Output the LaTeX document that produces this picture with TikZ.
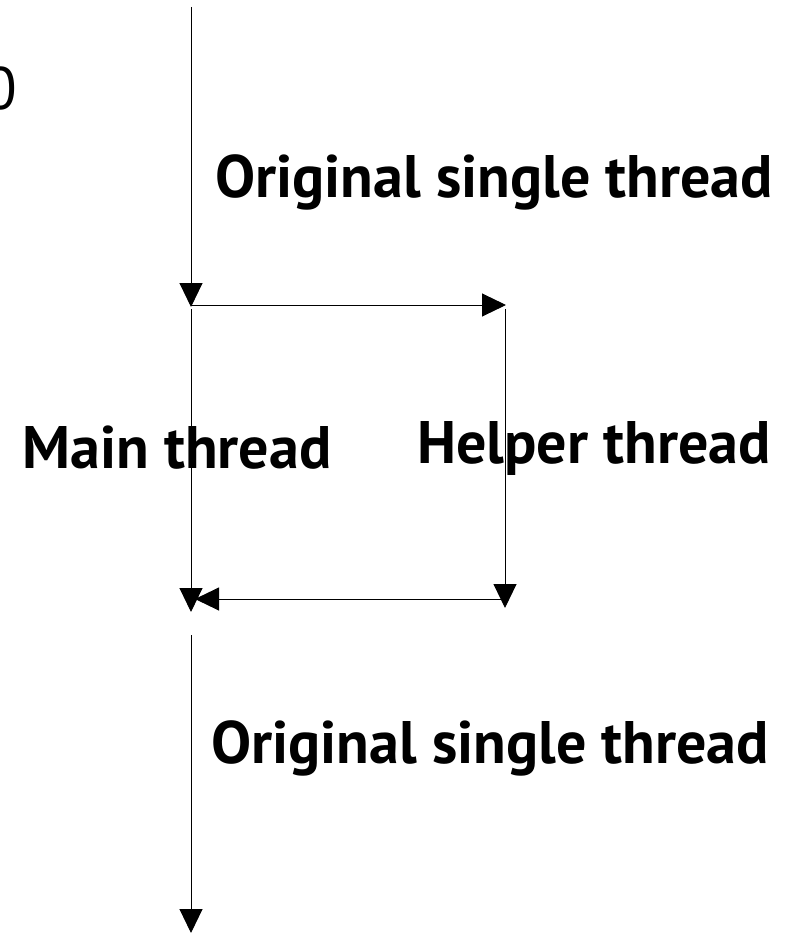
\documentclass[tikz,border=0pt]{standalone}
\usepackage{fontspec}
\setmainfont{PT Sans}
\usetikzlibrary{arrows.meta}
\begin{document}
\begin{tikzpicture}[x=1pt,y=-1pt,
  flow/.style={line width=1pt,draw=black,-{Triangle[length=24pt,width=23pt]}},
  label/.style={font=\fontsize{60}{60}\selectfont\bfseries,inner sep=0pt,anchor=base}]
\useasboundingbox (0,0) rectangle (788,933);
% thread timeline points
\coordinate (start) at (191,7);
\coordinate (fork) at (191,307);
\coordinate (forkR) at (506,305);
\coordinate (forkL) at (191,305);
\coordinate (mainTop) at (191,309);
\coordinate (mainEnd) at (191,612);
\coordinate (helpTop) at (505,309);
\coordinate (helpEnd) at (505,608);
\coordinate (joinR) at (505,599);
\coordinate (joinL) at (195,599);
\coordinate (restart) at (191,635);
\coordinate (finish) at (191,933);
% arrows
\draw[flow] (start) -- (fork);
\draw[flow] (forkL) -- (forkR);
\draw[flow] (mainTop) -- (mainEnd);
\draw[flow] (helpTop) -- (helpEnd);
\draw[flow] (joinR) -- (joinL);
\draw[flow] (restart) -- (finish);
% labels
\node[label] (orig1) at (494,198) {Original single thread};
\node[label] (mainlbl) at (177,468) {Main thread};
\node[label] (helplbl) at (594,463) {Helper thread};
\node[label] (orig2) at (490,763) {Original single thread};
\node[font=\fontsize{60}{60}\selectfont,inner sep=0pt,anchor=base east] (zero) at (17,110) {0};
\end{tikzpicture}
\end{document}
